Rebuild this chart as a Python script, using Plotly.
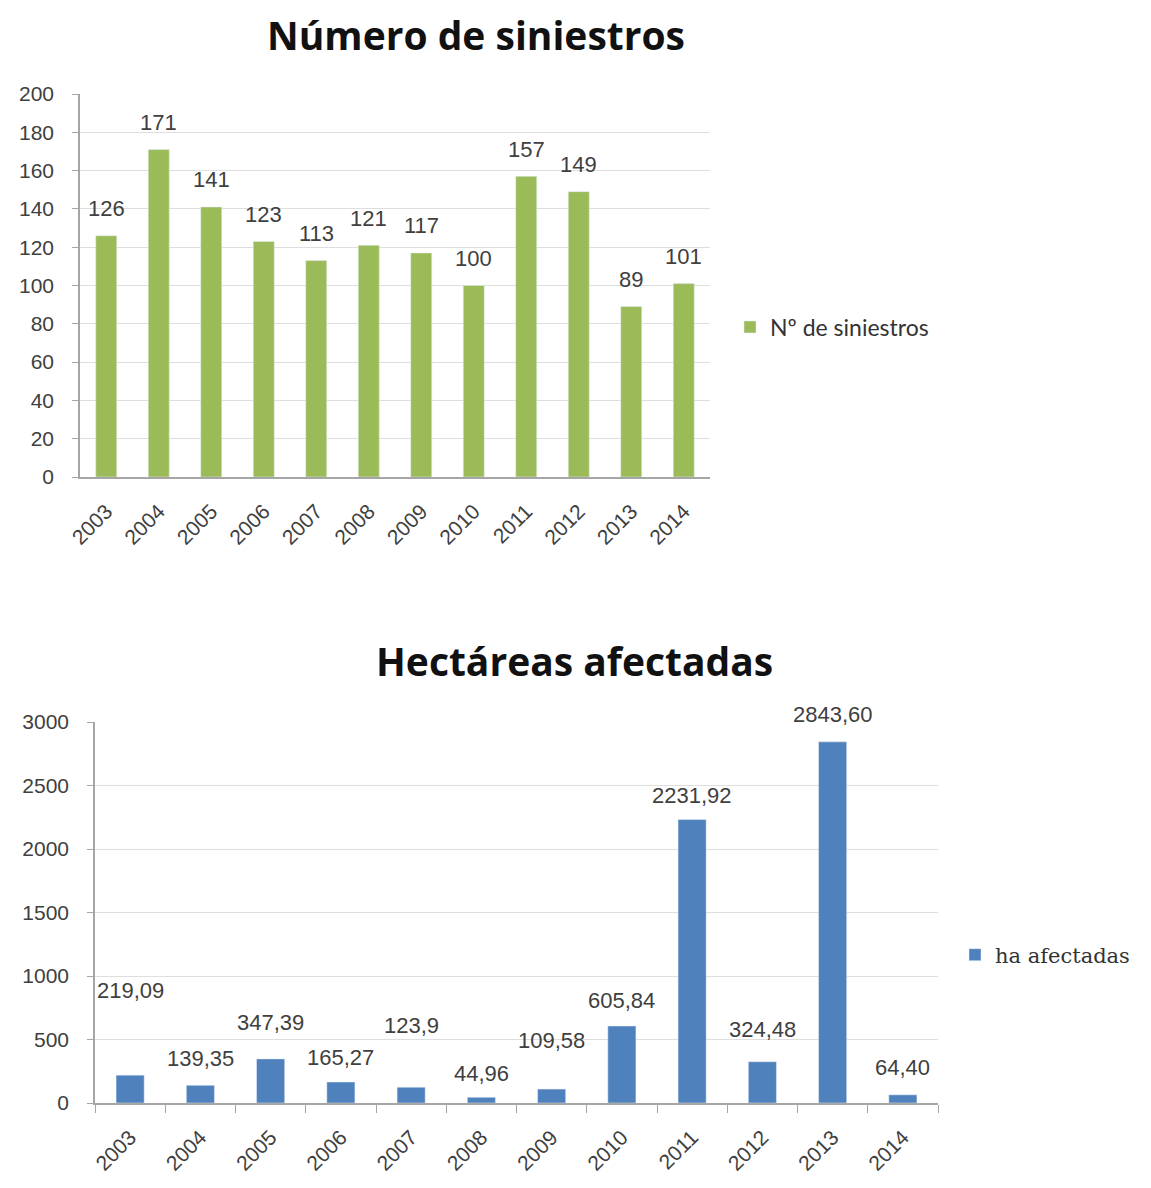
import plotly.graph_objects as go

years = ["2003", "2004", "2005", "2006", "2007", "2008", "2009", "2010", "2011", "2012", "2013", "2014"]
siniestros = [126, 171, 141, 123, 113, 121, 117, 100, 157, 149, 89, 101]
hectareas = [219.09, 139.35, 347.39, 165.27, 123.9, 44.96, 109.58, 605.84, 2231.92, 324.48, 2843.60, 64.40]
hect_labels = ["219,09", "139,35", "347,39", "165,27", "123,9", "44,96", "109,58", "605,84", "2231,92", "324,48", "2843,60", "64,40"]
sin_ticks = [0, 20, 40, 60, 80, 100, 120, 140, 160, 180, 200]
hect_ticks = [0, 500, 1000, 1500, 2000, 2500, 3000]

# label offsets (pixels above bar top), style only
hect_label_shift = [85, 27, 36, 25, 62, 24, 49, 26, 24, 32, 27, 27]

W, H = 1151, 1188
OFF = 8  # page body margin
GREEN = "#9BBB59"
BLUE = "#4F81BD"
AXIS_FONT = dict(family="Liberation Sans, Arial", size=21, color="#404040")
LABEL_FONT = dict(family="Liberation Sans, Arial", size=22, color="#404040")
TITLE_FONT = dict(family="Open Sans", size=39, color="#111111")

fig = go.Figure()
fig.add_trace(go.Bar(x=years, y=siniestros, marker_color=GREEN, name="Nº de siniestros",
                     xaxis="x", yaxis="y", legend="legend", width=0.4))
fig.add_trace(go.Bar(x=years, y=hectareas, marker_color=BLUE, name="ha afectadas",
                     xaxis="x2", yaxis="y2", legend="legend2", width=0.4))

def px(xp):
    return (xp - OFF) / W
def py(yp):
    return 1 - (yp - OFF) / H

annotations = []
for i, v in enumerate(siniestros):
    annotations.append(dict(x=i, y=v, xref="x", yref="y", text=str(v), showarrow=False,
                            yshift=27, font=LABEL_FONT))
for i, (v, t, s) in enumerate(zip(hectareas, hect_labels, hect_label_shift)):
    annotations.append(dict(x=i, y=v, xref="x2", yref="y2", text=t, showarrow=False,
                            yshift=s, font=LABEL_FONT))

annotations.append(dict(x=px(476), y=py(35), xref="paper", yref="paper", yanchor="middle",
                        text="<b>Número de siniestros</b>", showarrow=False, font=TITLE_FONT, borderpad=0))
annotations.append(dict(x=px(574), y=py(660), xref="paper", yref="paper", yanchor="middle",
                        text="<b>Hectáreas afectadas</b>", showarrow=False, font=TITLE_FONT))

common_x = dict(type="category", tickangle=-45, tickfont=AXIS_FONT, showline=True,
                linecolor="#a6a6a6", linewidth=1.5, showgrid=False, automargin=False,
                range=[-0.5, 11.5], ticklabelstandoff=12)
common_y = dict(tickfont=AXIS_FONT, showline=True, linecolor="#a6a6a6", linewidth=1.5,
                showgrid=True, gridcolor="#dedede", gridwidth=1, ticks="outside", ticklen=6,
                tickcolor="#a6a6a6", zeroline=False, automargin=False, ticklabelstandoff=14)

fig.update_layout(
    width=W, height=H,
    margin=dict(l=0, r=0, t=0, b=0),
    paper_bgcolor="white", plot_bgcolor="white",
    annotations=annotations,
    xaxis=dict(domain=[px(80), px(710)], anchor="y", **common_x),
    yaxis=dict(domain=[py(477), py(94)], anchor="x", range=[0, 200], tickvals=sin_ticks, **common_y),
    xaxis2=dict(domain=[px(95), px(938)], anchor="y2", ticks="outside", tickson="boundaries",
                ticklen=8, tickcolor="#a6a6a6", **common_x),
    yaxis2=dict(domain=[py(1103), py(722)], anchor="x2", range=[0, 3000], tickvals=hect_ticks, **common_y),
    legend=dict(x=px(730), y=py(327), xanchor="left", yanchor="middle",
                font=dict(family="Lato", size=23, color="#333333"), bgcolor="rgba(0,0,0,0)"),
    legend2=dict(x=px(955), y=py(955), xanchor="left", yanchor="middle",
                 font=dict(family="DejaVu Serif", size=21, color="#333333"), bgcolor="rgba(0,0,0,0)"),
    showlegend=True,
)

fig.write_html("out.html")
